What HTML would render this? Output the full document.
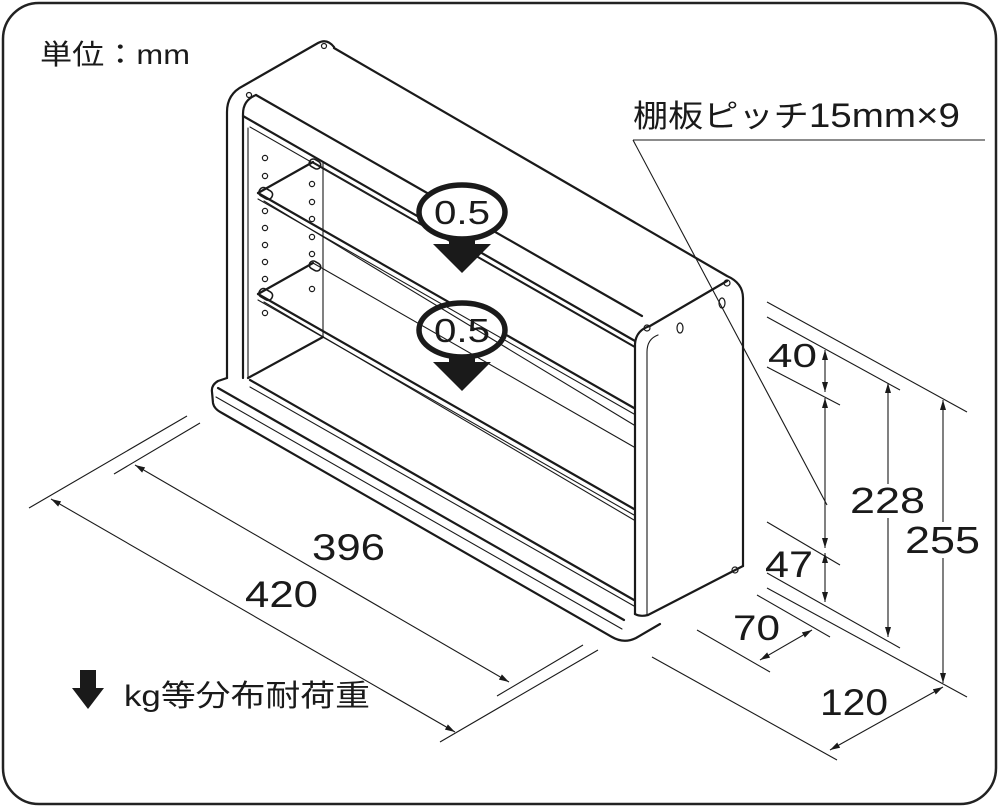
<!DOCTYPE html>
<html><head><meta charset="utf-8"><style>
html,body{margin:0;padding:0;background:#fff;}
svg{display:block;}
text{font-family:"Liberation Sans","Noto Sans CJK JP",sans-serif;fill:#1a1a1a;}
</style></head><body>
<svg width="1000" height="808" viewBox="0 0 1000 808" xmlns="http://www.w3.org/2000/svg">
<defs>
<marker id="ar" viewBox="0 0 10 6" refX="10" refY="3" markerWidth="10" markerHeight="6" markerUnits="userSpaceOnUse" orient="auto-start-reverse">
<path d="M0,0 L10,3 L0,6 z" fill="#1a1a1a"/>
</marker>
</defs>
<rect x="3" y="3" width="993" height="801" rx="36" fill="none" stroke="#222" stroke-width="2.5"/>

<g fill="none" stroke="#1a1a1a" stroke-width="2.2" stroke-linejoin="round" stroke-linecap="round">
<path d="M227,378 L227,112 Q227,94 243,86 L318,43 Q327,38 334,47"/>
<path d="M243,378 L243,114 Q243,100 256,95"/>
<path d="M334,48 L727,276 Q743,283 743,298 L743,566"/>
<path d="M256,95 L642,316"/>
<path d="M243,116 L635,341"/>
<path d="M635,614 L635,344 Q636,330 650,326 L727,281"/>
<path d="M635,614 Q640,617 648,615 L743,566"/>
<path d="M250,380 L634,600"/>
<path d="M248,378 L323,337"/>
<path d="M227,378 L218,381 Q211,385 212,392 L213,403 Q214,409 222,413 L612,637 Q624,644 636,638 L660,624"/>
<path d="M218,388 L624,620"/>
<path d="M258,193 L634,408"/>
<path d="M258,193 L313,162"/>
<path d="M258,294 L634,509"/>
<path d="M258,294 L313,263"/>
<ellipse cx="462" cy="212" rx="43" ry="27" fill="#fff" stroke-width="5.5"/>
<ellipse cx="462" cy="330" rx="43" ry="27" fill="#fff" stroke-width="5.5"/>
</g>
<g fill="none" stroke="#1a1a1a" stroke-width="1.1" stroke-linecap="round">
<path d="M250,127 L634,347"/>
<path d="M248,128 L248,378"/>
<path d="M323,163 L323,337"/>
<path d="M647,615 L647,352 Q647,339 658,335"/>
<path d="M250,387 L634,606"/>
<path d="M216,397 L622,629"/>
<path d="M258,199 L634,414"/>
<path d="M313,162 L634,346"/>
<path d="M264,201 L634,425"/>
<path d="M258,300 L634,515"/>
<path d="M313,263 L634,447"/>
<path d="M264,302 L634,520"/>
<g stroke-width="1.6">
<rect x="259" y="189" width="14" height="9" rx="4" transform="rotate(30 266 193)"/>
<rect x="309" y="160" width="12" height="8" rx="4" transform="rotate(30 315 164)"/>
<rect x="259" y="290" width="14" height="9" rx="4" transform="rotate(30 266 294)"/>
<rect x="309" y="262" width="12" height="8" rx="4" transform="rotate(30 315 266)"/>
</g>
<g stroke-width="1.2">
<circle cx="265" cy="158" r="2.6"/><circle cx="265" cy="176" r="2.6"/><circle cx="265" cy="211" r="2.6"/><circle cx="265" cy="228" r="2.6"/><circle cx="265" cy="245" r="2.6"/><circle cx="265" cy="262" r="2.6"/><circle cx="265" cy="279" r="2.6"/><circle cx="265" cy="313" r="2.6"/>
<circle cx="312" cy="184" r="2.6"/><circle cx="312" cy="202" r="2.6"/><circle cx="312" cy="219" r="2.6"/><circle cx="312" cy="237" r="2.6"/><circle cx="312" cy="254" r="2.6"/><circle cx="312" cy="289" r="2.6"/>
<ellipse cx="680" cy="328" rx="3" ry="5"/><ellipse cx="722" cy="303" rx="3" ry="5"/>
<circle cx="647" cy="328" r="3"/><circle cx="727" cy="283" r="3"/><circle cx="735" cy="570" r="3"/><circle cx="324" cy="46" r="2.5"/><circle cx="249" cy="95" r="2.5"/>
</g>
</g>

<g fill="#1a1a1a">
<path d="M449,238 L475,238 L475,244 L491,244 L462,273 L433,244 L449,244 z"/>
<path d="M449,356 L475,356 L475,362 L491,362 L462,391 L433,362 L449,362 z"/>
<path d="M80,670 L96,670 L96,688 L104,688 L88,709 L72,688 L80,688 z"/>
</g>
<text x="462" y="224" font-size="33" text-anchor="middle" textLength="56" lengthAdjust="spacingAndGlyphs">0.5</text>
<text x="462" y="342" font-size="33" text-anchor="middle" textLength="56" lengthAdjust="spacingAndGlyphs">0.5</text>

<g fill="none" stroke="#1a1a1a" stroke-width="1.1">
<path d="M29,508 L187,416"/>
<path d="M440,742 L598,650"/>
<path d="M51,499 L455,732" marker-start="url(#ar)" marker-end="url(#ar)"/>
<path d="M114,474 L200,423"/>
<path d="M497,696 L583,645"/>
<path d="M135,465 L509,682" marker-start="url(#ar)" marker-end="url(#ar)"/>
<path d="M767,302 L967,412"/>
<path d="M767,317 L900,390"/>
<path d="M767,367 L840,405"/>
<path d="M767,522 L840,565"/>
<path d="M767,573 L900,648"/>
<path d="M767,588 L967,697"/>
<path d="M757,595 L830,637"/>
<path d="M697,630 L770,672"/>
<path d="M652,657 L837,760"/>
<path d="M825,350 L825,392" marker-start="url(#ar)" marker-end="url(#ar)"/>
<path d="M825,398 L825,548" marker-start="url(#ar)" marker-end="url(#ar)"/>
<path d="M825,553 L825,602" marker-start="url(#ar)" marker-end="url(#ar)"/>
<path d="M888,383 L888,637" marker-start="url(#ar)" marker-end="url(#ar)"/>
<path d="M943,400 L943,683" marker-start="url(#ar)" marker-end="url(#ar)"/>
<path d="M760,660 L812,630" marker-start="url(#ar)" marker-end="url(#ar)"/>
<path d="M830,750 L943,687" marker-start="url(#ar)" marker-end="url(#ar)"/>
<path d="M633,140 L827,505"/>
<path d="M633,140 L985,140"/>
</g>
<rect x="846" y="484" width="82" height="34" fill="#fff"/>
<rect x="903" y="522" width="80" height="36" fill="#fff"/>

<text x="40" y="64" font-size="28" textLength="150" lengthAdjust="spacingAndGlyphs">単位：mm</text>
<text x="633" y="127" font-size="31" textLength="327" lengthAdjust="spacingAndGlyphs">棚板ピッチ<tspan font-size="34">15mm×9</tspan></text>
<text x="124" y="706" font-size="30" textLength="246" lengthAdjust="spacingAndGlyphs">kg等分布耐荷重</text>
<text x="312" y="560" font-size="37" textLength="73" lengthAdjust="spacingAndGlyphs">396</text>
<text x="245" y="607" font-size="37" textLength="73" lengthAdjust="spacingAndGlyphs">420</text>
<text x="768" y="367" font-size="33" textLength="49" lengthAdjust="spacingAndGlyphs">40</text>
<text x="850" y="513" font-size="36" textLength="75" lengthAdjust="spacingAndGlyphs">228</text>
<text x="905" y="553" font-size="38" textLength="75" lengthAdjust="spacingAndGlyphs">255</text>
<text x="765" y="577" font-size="37" textLength="48" lengthAdjust="spacingAndGlyphs">47</text>
<text x="733" y="640" font-size="35" textLength="47" lengthAdjust="spacingAndGlyphs">70</text>
<text x="820" y="715" font-size="37" textLength="68" lengthAdjust="spacingAndGlyphs">120</text>
</svg>
</body></html>
